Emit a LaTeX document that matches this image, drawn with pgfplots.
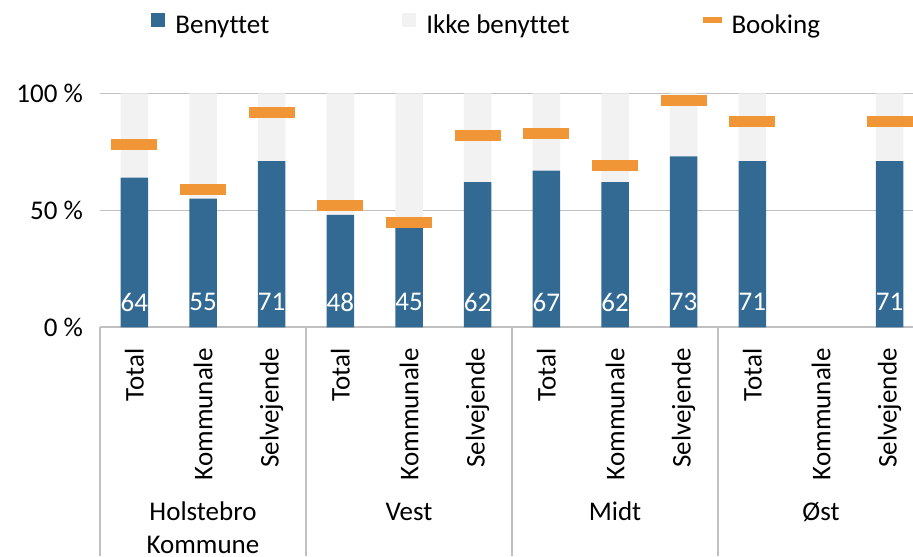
\documentclass[border=0pt]{standalone}
\usepackage{pgfplots}
\pgfplotsset{compat=1.18}
\usepackage{fontspec}
\setmainfont[Ligatures=NoCommon]{Carlito}
\definecolor{cblue}{HTML}{336A94}
\definecolor{clight}{HTML}{F2F2F2}
\definecolor{corange}{HTML}{F09637}
\definecolor{cgrid}{HTML}{C0C0C0}
\newcommand{\fs}{\fontsize{13.5}{16}\selectfont}
\begin{document}
\begin{tikzpicture}
\useasboundingbox (0,0) rectangle (456.5pt,278pt);
\clip (0,0) rectangle (456.5pt,278pt);
\pgfplotsset{base/.style={scale only axis, width=412pt, height=117pt,
  at={(50pt,114.35pt)}, anchor=south west,
  xmin=-0.5, xmax=11.5, ymin=0, ymax=100, enlargelimits=false}}
\begin{axis}[base, ybar stacked, bar width=13.75pt,
  axis x line*=bottom, axis y line*=left,
  axis line style={-},
  x axis line style={draw=cgrid, line width=1pt},
  y axis line style={draw=none},
  ymajorgrids, grid style={cgrid, line width=0.7pt},
  major tick length=0pt,
  xtick={0,...,11},
  xticklabels={Total,Kommunale,Selvejende,Total,Kommunale,Selvejende,Total,Kommunale,Selvejende,Total,Kommunale,Selvejende},
  xticklabel style={rotate=90, anchor=east, font=\fs},
  xticklabel shift=7pt,
  ytick={0,50,100}, yticklabels={0 \%,50 \%,100 \%},
  yticklabel style={font=\fs, xshift=-5pt},
  legend columns=3,
  legend style={at={(0.4705,1.2876)}, anchor=center, draw=none, fill=none, font=\fs,
    /tikz/every odd column/.append style={column sep=3pt},
    /tikz/every even column/.append style={column sep=64.5pt}},
]
\addplot[fill=cblue, draw=none,
  legend image code/.code={\fill[cblue] (0pt,-0.5pt) rectangle (7pt,6.5pt);}]
  coordinates {(0,64) (1,55) (2,71) (3,48) (4,45) (5,62) (6,67) (7,62) (8,73) (9,71) (11,71)};
\addlegendentry{Benyttet}
\addplot[fill=clight, draw=none,
  legend image code/.code={\fill[clight] (0pt,-0.5pt) rectangle (7pt,6.5pt);}]
  coordinates {(0,36) (1,45) (2,29) (3,52) (4,55) (5,38) (6,33) (7,38) (8,27) (9,29) (11,29)};
\addlegendentry{Ikke benyttet}
\addlegendimage{corange, legend image code/.code={\fill[corange] (0pt,1.8pt) rectangle (9pt,4.3pt);}}
\addlegendentry{Booking}
\end{axis}
\begin{axis}[base, hide axis, clip=false]
\addplot[only marks, mark=square*, mark size=2.5pt, color=corange,
  mark options={xscale=4.5}]
  coordinates {(0,78) (1,59) (2,92) (3,52) (4,45) (5,82) (6,83) (7,69) (8,97) (9,88) (11,88)};
\addplot[draw=none, mark=none, nodes near coords, point meta=explicit symbolic,
  every node near coord/.append style={anchor=center, text=white, font=\fs}]
  coordinates {(0,10.8)[64] (1,10.8)[55] (2,10.8)[71] (3,10.8)[48] (4,10.8)[45] (5,10.8)[62]
    (6,10.8)[67] (7,10.8)[62] (8,10.8)[73] (9,10.8)[71] (11,10.8)[71]};
\end{axis}
\foreach \x in {50,153,256,359,462} \draw[cgrid, line width=0.9pt] (\x pt,114.35pt) -- (\x pt,0pt);
\node[font=\fs, anchor=base] at (101.5pt,17.6pt) {Holstebro};
\node[font=\fs, anchor=base] at (101.5pt,1.3pt) {Kommune};
\node[font=\fs, anchor=base] at (204.5pt,17.6pt) {Vest};
\node[font=\fs, anchor=base] at (307.5pt,17.6pt) {Midt};
\node[font=\fs, anchor=base] at (410.5pt,17.6pt) {Øst};
\end{tikzpicture}
\end{document}
